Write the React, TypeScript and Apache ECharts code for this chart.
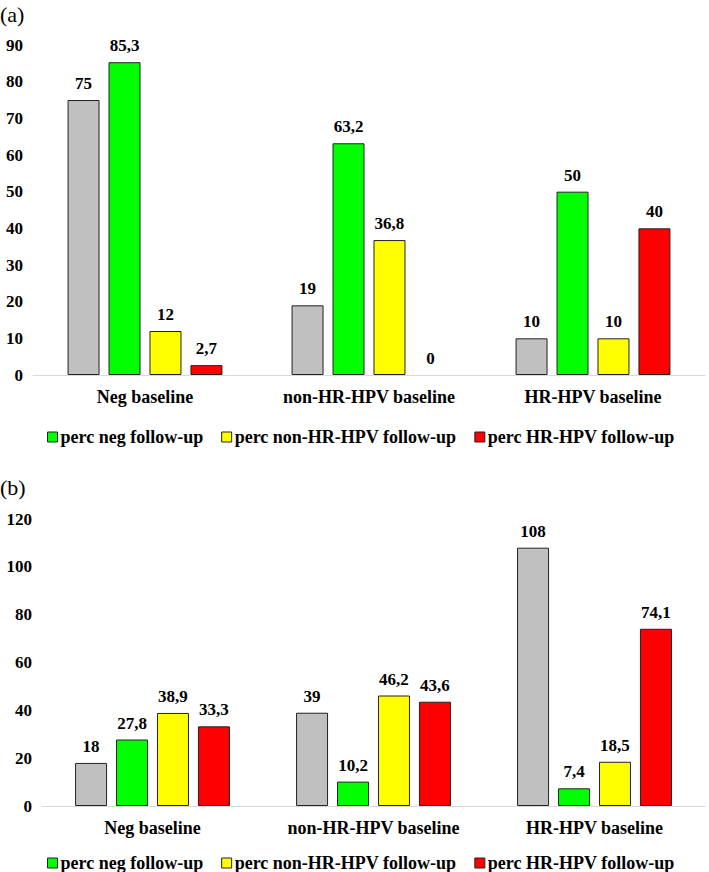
import React, { useEffect, useRef } from "react";
import * as echarts from "echarts";

const categories = ["Neg baseline", "non-HR-HPV baseline", "HR-HPV baseline"];
const legendNames = ["perc neg follow-up", "perc non-HR-HPV follow-up", "perc HR-HPV follow-up"];

// Panel (a)
const aCount = [75, 19, 10];
const aNeg = [85.3, 63.2, 50];
const aNonHR = [12, 36.8, 10];
const aHR = [2.7, 0, 40];
const aTicks = { min: 0, max: 90, interval: 10 };

// Panel (b)
const bCount = [18, 39, 108];
const bNeg = [27.8, 10.2, 7.4];
const bNonHR = [38.9, 46.2, 18.5];
const bHR = [33.3, 43.6, 74.1];
const bTicks = { min: 0, max: 120, interval: 20 };

const colors = { count: "#c0c0c0", neg: "#00ff00", nonhr: "#ffff00", hr: "#ff0000" };
const FONT = "'Liberation Serif', 'Times New Roman', 'DejaVu Serif', serif";

export default function App() {
  const ref = useRef<HTMLDivElement>(null);
  useEffect(() => {
    document.body.style.margin = "0";
    const chart = echarts.init(ref.current!, null, { renderer: "svg" });
    const labelStyle = {
      show: true,
      position: "top",
      distance: 8,
      fontFamily: FONT,
      fontWeight: "bold",
      fontSize: 17,
      color: "#000",
      formatter: (p: any) => String(p.value).replace(".", ","),
    };
    const mk = (name: string, data: number[], color: string, idx: number) => ({
      name,
      type: "bar",
      data: data.map((v) => (v === 0 ? { value: v, itemStyle: { borderWidth: 0 } } : v)),
      xAxisIndex: idx,
      yAxisIndex: idx,
      barWidth: 32,
      barGap: "28%",
      itemStyle: { color, borderColor: "#222", borderWidth: 1 },
      label: labelStyle,
    });
    const xAxis = (idx: number) => ({
      type: "category",
      gridIndex: idx,
      data: categories,
      axisLine: { show: true, lineStyle: { color: "#d9d9d9", width: 1 } },
      axisTick: { show: false },
      axisLabel: {
        interval: 0,
        hideOverlap: false,
        fontFamily: FONT,
        fontWeight: "bold",
        fontSize: 18,
        color: "#000",
        margin: 13,
      },
    });
    const yAxis = (idx: number, t: { min: number; max: number; interval: number }) => ({
      type: "value",
      gridIndex: idx,
      min: t.min,
      max: t.max,
      interval: t.interval,
      splitLine: { show: false },
      axisLine: { show: false },
      axisTick: { show: false },
      axisLabel: { fontFamily: FONT, fontWeight: "bold", fontSize: 17, color: "#000", margin: 10 },
    });
    const legend = (top: number) => ({
      data: legendNames,
      top,
      left: 47,
      padding: 0,
      itemWidth: 10,
      itemHeight: 10,
      itemGap: 18,
      icon: "rect",
      itemStyle: { borderColor: "#222", borderWidth: 1 },
      textStyle: { fontFamily: FONT, fontWeight: "bold", fontSize: 18, color: "#000", padding: [0, 0, 0, -2] },
    });
    chart.setOption({
      animation: false,
      backgroundColor: "#fff",
      grid: [
        { left: 33, right: 4, top: 45, height: 330 },
        { left: 42, right: 4, top: 519, height: 287 },
      ],
      xAxis: [xAxis(0), xAxis(1)],
      yAxis: [yAxis(0, aTicks), yAxis(1, bTicks)],
      legend: [legend(428), legend(854)],
      graphic: [
        { type: "text", left: 0, top: 3, style: { text: "(a)", fontFamily: FONT, fontSize: 22, fill: "#000" } },
        { type: "text", left: 0, top: 476, style: { text: "(b)", fontFamily: FONT, fontSize: 22, fill: "#000" } },
      ],
      series: [
        mk("count", aCount, colors.count, 0),
        mk(legendNames[0], aNeg, colors.neg, 0),
        mk(legendNames[1], aNonHR, colors.nonhr, 0),
        mk(legendNames[2], aHR, colors.hr, 0),
        mk("count", bCount, colors.count, 1),
        mk(legendNames[0], bNeg, colors.neg, 1),
        mk(legendNames[1], bNonHR, colors.nonhr, 1),
        mk(legendNames[2], bHR, colors.hr, 1),
      ],
    });
    return () => chart.dispose();
  }, []);
  return <div ref={ref} style={{ width: 709, height: 872 }} />;
}
